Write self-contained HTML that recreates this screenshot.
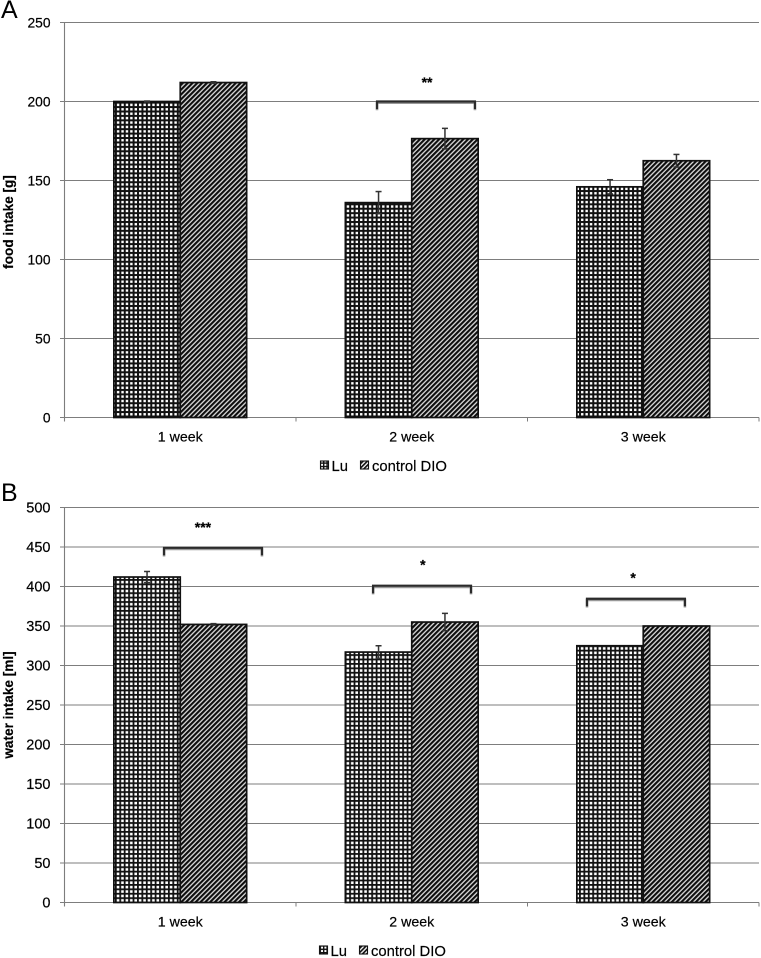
<!DOCTYPE html>
<html>
<head>
<meta charset="utf-8">
<style>
html,body{margin:0;padding:0;background:#fff;width:761px;height:958px;overflow:hidden}
svg{display:block;filter:blur(0.35px)}
text{font-family:"Liberation Sans",sans-serif;fill:#000;stroke:#000;stroke-width:0.2px}
</style>
</head>
<body>
<svg id="chart" width="761" height="958" viewBox="0 0 761 958" xmlns="http://www.w3.org/2000/svg">
<defs>
<pattern id="grid-pat-food" patternUnits="userSpaceOnUse" width="4.42" height="4.42">
<rect width="4.42" height="4.42" fill="#fff"/>
<rect x="0" y="0" width="2" height="4.42" fill="#111"/>
<rect x="0" y="0" width="4.42" height="2" fill="#111"/>
</pattern>
<pattern id="grid-pat-water" patternUnits="userSpaceOnUse" width="4.42" height="4.42">
<rect width="4.42" height="4.42" fill="#fff"/>
<rect x="0" y="0" width="1.8" height="4.42" fill="#111"/>
<rect x="0" y="0" width="4.42" height="1.8" fill="#111"/>
</pattern>
<pattern id="hatch-pat" patternUnits="userSpaceOnUse" width="3.4" height="3.4" patternTransform="rotate(45)">
<rect width="3.4" height="3.4" fill="#dcdcdc"/>
<rect x="0" y="0" width="2.1" height="3.4" fill="#0d0d0d"/>
</pattern>
<pattern id="grid-pat-small" patternUnits="userSpaceOnUse" width="3.4" height="3.4">
<rect width="3.4" height="3.4" fill="#fff"/>
<rect width="1.4" height="3.4" fill="#111"/>
<rect width="3.4" height="1.4" fill="#111"/>
</pattern>
<pattern id="hatch-pat-small" patternUnits="userSpaceOnUse" width="3" height="3" patternTransform="rotate(45)">
<rect width="3" height="3" fill="#fff"/>
<rect width="1.7" height="3" fill="#111"/>
</pattern>
</defs>
</svg>
<script>
var categories = ["1 week", "2 week", "3 week"];
var seriesNames = ["Lu", "control DIO"];

var foodLu = [200, 136, 146];
var foodDio = [212, 176.5, 162.5];
var foodLuErr = [0.3, 7, 4.5];
var foodDioErr = [0.5, 6.5, 4];
var foodTicks = [0, 50, 100, 150, 200, 250];

var waterLu = [412, 317, 325];
var waterDio = [352, 355, 350];
var waterLuErr = [7, 8, 0];
var waterDioErr = [1, 11, 0];
var waterTicks = [0, 50, 100, 150, 200, 250, 300, 350, 400, 450, 500];

var foodSigLabels = ["**"];
var foodSigLevels = [200];
var foodSigStarts = [1.35];
var foodSigEnds = [1.773];
var foodSigLabelAt = [1.566];

var waterSigLabels = ["***", "*", "*"];
var waterSigLevels = [449, 401, 384.5];
var waterSigStarts = [0.43, 1.333, 2.257];
var waterSigEnds = [0.853, 1.756, 2.68];
var waterSigLabelAt = [0.598, 1.548, 2.456];

var svg = document.getElementById('chart');
var NS = 'http://www.w3.org/2000/svg';
function mk(tag, attrs, parent, txt) {
  var e = document.createElementNS(NS, tag);
  for (var k in attrs) e.setAttribute(k, attrs[k]);
  if (txt !== undefined) e.textContent = txt;
  (parent || svg).appendChild(e);
  return e;
}

function drawPanel(p) {
  var left = 64.5, right = 759, plotW = right - left;
  var maxV = p.ticks[p.ticks.length - 1];
  var catW = plotW / categories.length;
  var barW = 66.4;
  function y(v) { return p.bottom - (v / maxV) * (p.bottom - p.top); }
  function x(c) { return left + c * catW; }

  var g = mk('g', {});
  
  

  var letter = mk('text', {x: 1, y: p.letterY, 'font-size': 25, style: 'stroke-width:0'}, g, p.letter);
  
  

  p.ticks.forEach(function (t) {
    var line = mk('line', {x1: 60, x2: right, y1: y(t), y2: y(t), stroke: '#7d7d7d', 'stroke-width': 1.1}, g);
    
    
    var lab = mk('text', {x: 50.5, y: y(t) + 5, 'text-anchor': 'end', 'font-size': p.tickFont}, g, String(t));
    
    
  });

  var axisY = mk('line', {x1: left, x2: left, y1: p.top, y2: p.bottom + 4, stroke: '#7d7d7d', 'stroke-width': 1.1}, g);
  
  

  for (var i = 0; i <= categories.length; i++) {
    var tk = mk('line', {x1: x(i), x2: x(i), y1: p.bottom, y2: p.bottom + 4, stroke: '#7d7d7d', 'stroke-width': 1}, g);
    
    
  }

  categories.forEach(function (c, i) {
    var cx = x(i + 0.5);
    var a = mk('rect', {x: cx - barW, y: y(p.lu[i]), width: barW, height: p.bottom - y(p.lu[i]), fill: 'url(#' + p.gridPattern + ')', stroke: '#111', 'stroke-width': 1.7}, g);
    
    
    var b = mk('rect', {x: cx, y: y(p.dio[i]), width: barW, height: p.bottom - y(p.dio[i]), fill: 'url(#hatch-pat)', stroke: '#111', 'stroke-width': 1.7}, g);
    
    

    [[cx - barW / 2, p.lu[i], p.luErr[i], 'lu'], [cx + barW / 2, p.dio[i], p.dioErr[i], 'control-dio']].forEach(function (s) {
      if (s[2] <= 0) return;
      var eg = mk('g', {stroke: '#333', 'stroke-width': 1.5, fill: 'none'}, g);
      
      
      mk('line', {x1: s[0], x2: s[0], y1: y(s[1] + s[2]), y2: y(s[1] - s[2])}, eg);
      mk('line', {x1: s[0] - 3, x2: s[0] + 3, y1: y(s[1] + s[2]), y2: y(s[1] + s[2])}, eg);
      mk('line', {x1: s[0] - 3, x2: s[0] + 3, y1: y(s[1] - s[2]), y2: y(s[1] - s[2])}, eg);
    });

    var lab = mk('text', {x: cx, y: p.bottom + 24, 'text-anchor': 'middle', 'font-size': 14.2}, g, c);
    
    
  });

  p.sigLabels.forEach(function (s, i) {
    var x1 = x(p.sigStarts[i]), x2 = x(p.sigEnds[i]), yy = y(p.sigLevels[i]);
    var d = 'M' + x1 + ' ' + (yy + 7.5) + 'V' + yy + 'H' + x2 + 'V' + (yy + 7.5);
    var shadow = mk('path', {d: d, transform: 'translate(0,1.2)', fill: 'none', stroke: '#999', 'stroke-width': 2.6}, g);
    
    
    var br = mk('path', {d: d, fill: 'none', stroke: '#2b2b2b', 'stroke-width': 2.2}, g);
    
    
    var st = mk('text', {x: x(p.sigLabelAt[i]), y: yy + p.starDy, 'text-anchor': 'middle', 'font-size': 14, 'font-weight': 'bold'}, g, s);
    
    
  });

  var title = mk('text', {x: 13, y: p.titleY, transform: 'rotate(-90 13 ' + p.titleY + ')', 'text-anchor': 'middle', 'font-size': 13.6, 'font-weight': 'bold'}, g, p.title);
  
  

  var lg = mk('g', {}, g);
  
  
  var sw1 = mk('rect', {x: p.legendX, y: p.legendY - 5, width: 8, height: 8, fill: 'url(#grid-pat-small)', stroke: '#111', 'stroke-width': 1.1}, lg);
  
  
  var t1 = mk('text', {x: p.legendX + 11, y: p.legendY + 5, 'font-size': 14.8}, lg, seriesNames[0]);
  
  
  var sw2 = mk('rect', {x: p.legendX + 40, y: p.legendY - 5, width: 8, height: 8, fill: 'url(#hatch-pat-small)', stroke: '#111', 'stroke-width': 1.1}, lg);
  
  
  var t2 = mk('text', {x: p.legendX + 51.5, y: p.legendY + 5, 'font-size': 14.8}, lg, seriesNames[1]);
  
  
}

drawPanel({key: 'food', letter: 'A', letterY: 18, title: 'food intake [g]', top: 22.5, bottom: 417.5, tickFont: 13.8, titleY: 222, gridPattern: 'grid-pat-food',
  ticks: foodTicks, lu: foodLu, dio: foodDio, luErr: foodLuErr, dioErr: foodDioErr,
  sigLabels: foodSigLabels, sigLevels: foodSigLevels, sigStarts: foodSigStarts, sigEnds: foodSigEnds, sigLabelAt: foodSigLabelAt, starDy: -14.5,
  legendX: 320.5, legendY: 466});
drawPanel({key: 'water', letter: 'B', letterY: 501, title: 'water intake [ml]', top: 507.5, bottom: 902.5, tickFont: 14.5, titleY: 705, gridPattern: 'grid-pat-water',
  ticks: waterTicks, lu: waterLu, dio: waterDio, luErr: waterLuErr, dioErr: waterDioErr,
  sigLabels: waterSigLabels, sigLevels: waterSigLevels, sigStarts: waterSigStarts, sigEnds: waterSigEnds, sigLabelAt: waterSigLabelAt, starDy: -16,
  legendX: 319.5, legendY: 951});
</script>
</body>
</html>
